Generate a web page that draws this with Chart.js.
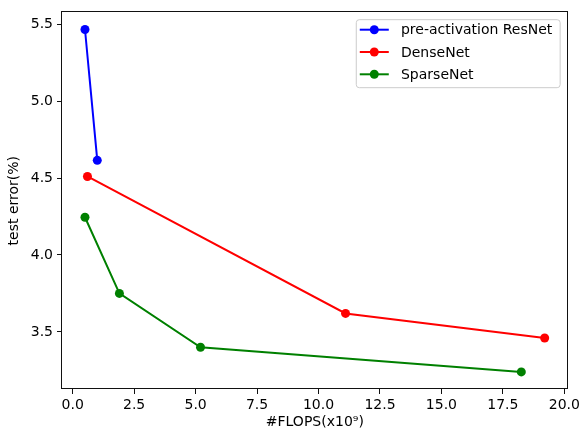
<!DOCTYPE html>
<html>
<head>
<meta charset="utf-8">
<script src="https://cdn.jsdelivr.net/npm/chart.js@4"></script>
<style>
  html, body { margin: 0; padding: 0; background: #fff; }
  #wrap { width: 583px; height: 437px; }
</style>
</head>
<body>
<div id="wrap"><canvas id="c" width="583" height="437"></canvas></div>
<script>
// ---- data ----
const seriesNames = ['pre-activation ResNet', 'DenseNet', 'SparseNet'];
const resnetFlops = [0.5, 1.0];
const resnetError = [5.465, 4.615];
const denseFlops = [0.6, 11.1, 19.2];
const denseError = [4.51, 3.62, 3.46];
const sparseFlops = [0.5, 1.9, 5.2, 18.25];
const sparseError = [4.245, 3.75, 3.40, 3.24];
const xTickValues = [0, 2.5, 5, 7.5, 10, 12.5, 15, 17.5, 20];
const yTickValues = [3.5, 4.0, 4.5, 5.0, 5.5];
const xTitle = '#FLOPS(x10\u2079)';
const yTitle = 'test error(%)';

function pts(xs, ys) { return xs.map((x, i) => ({ x: x, y: ys[i] })); }

// matplotlib-style 5% autoscale margins
const allX = [].concat(resnetFlops, denseFlops, sparseFlops);
const allY = [].concat(resnetError, denseError, sparseError);
function lims(a) {
  const lo = Math.min.apply(null, a), hi = Math.max.apply(null, a), m = (hi - lo) * 0.05;
  return [lo - m, hi + m];
}
const [xMin, xMax] = lims(allX);
const [yMin, yMax] = lims(allY);

const FONT = '"DejaVu Sans", sans-serif';
Chart.defaults.font.family = FONT;
Chart.defaults.font.size = 14;
Chart.defaults.color = '#000';

const frame = {
  id: 'frame',
  afterDatasetsDraw(chart) {
    const { ctx, chartArea: a } = chart;
    ctx.save();
    ctx.strokeStyle = '#111';
    ctx.lineWidth = 1;
    ctx.strokeRect(Math.round(a.left) - 0.5, Math.round(a.top) - 0.5,
                   Math.round(a.right - a.left), Math.round(a.bottom - a.top));
    ctx.restore();
  }
};

const legendBox = {
  id: 'legendBox',
  afterDraw(chart) {
    const { ctx, chartArea: a } = chart;
    const ds = chart.data.datasets;
    ctx.save();
    ctx.font = '14px ' + FONT;
    let tw = 0;
    ds.forEach(d => { tw = Math.max(tw, ctx.measureText(d.label).width); });
    const padL = 3.5, handle = 29, gap = 12.2, padR = 7.8, rowH = 22.3;
    const w = padL + handle + gap + tw + padR;
    const h = 68;
    const x0 = a.right - 7.5 - w, y0 = a.top + 7.3;
    const r = 3;
    ctx.beginPath();
    ctx.moveTo(x0 + r, y0);
    ctx.lineTo(x0 + w - r, y0); ctx.quadraticCurveTo(x0 + w, y0, x0 + w, y0 + r);
    ctx.lineTo(x0 + w, y0 + h - r); ctx.quadraticCurveTo(x0 + w, y0 + h, x0 + w - r, y0 + h);
    ctx.lineTo(x0 + r, y0 + h); ctx.quadraticCurveTo(x0, y0 + h, x0, y0 + h - r);
    ctx.lineTo(x0, y0 + r); ctx.quadraticCurveTo(x0, y0, x0 + r, y0);
    ctx.closePath();
    ctx.fillStyle = 'rgba(255,255,255,0.8)';
    ctx.fill();
    ctx.strokeStyle = '#cccccc';
    ctx.lineWidth = 1;
    ctx.stroke();
    ds.forEach((d, i) => {
      const cy = y0 + 10 + rowH * i;
      const hx = x0 + padL;
      ctx.strokeStyle = d.borderColor;
      ctx.lineWidth = d.borderWidth;
      ctx.beginPath(); ctx.moveTo(hx, cy); ctx.lineTo(hx + handle, cy); ctx.stroke();
      ctx.fillStyle = d.backgroundColor;
      ctx.beginPath(); ctx.arc(hx + handle / 2, cy, d.pointRadius, 0, Math.PI * 2); ctx.fill();
      ctx.fillStyle = '#000';
      ctx.textBaseline = 'middle';
      ctx.textAlign = 'left';
      ctx.fillText(d.label, hx + handle + gap, cy + 1);
    });
    ctx.restore();
  }
};

function ds(label, color, xs, ys) {
  return {
    label: label,
    data: pts(xs, ys),
    showLine: true,
    borderColor: color,
    backgroundColor: color,
    borderWidth: 2,
    pointRadius: 4.5,
    pointHoverRadius: 4.5,
    pointBorderWidth: 0,
    tension: 0
  };
}

new Chart(document.getElementById('c'), {
  type: 'scatter',
  data: {
    datasets: [
      ds(seriesNames[0], '#0000ff', resnetFlops, resnetError),
      ds(seriesNames[1], '#ff0000', denseFlops, denseError),
      ds(seriesNames[2], '#008000', sparseFlops, sparseError)
    ]
  },
  options: {
    responsive: false,
    animation: false,
    events: [],
    layout: { padding: { left: 0, right: 13, top: 10, bottom: 0 } },
    plugins: { legend: { display: false }, tooltip: { enabled: false } },
    scales: {
      x: {
        type: 'linear',
        min: xMin, max: xMax,
        afterFit(s) { s.height = 48; },
        afterBuildTicks(s) { s.ticks = xTickValues.map(v => ({ value: v })); },
        ticks: { callback: v => v.toFixed(1), padding: 3, maxRotation: 0, autoSkip: false },
        grid: { display: true, drawOnChartArea: false, drawTicks: true, tickLength: 5, color: '#111' },
        border: { display: false },
        title: { display: true, text: xTitle, padding: { top: 0, bottom: 6 } }
      },
      y: {
        type: 'linear',
        min: yMin, max: yMax,
        afterFit(s) { s.width = 62; },
        afterBuildTicks(s) { s.ticks = yTickValues.map(v => ({ value: v })); },
        ticks: { callback: v => v.toFixed(1), padding: 4, autoSkip: false },
        grid: { display: true, drawOnChartArea: false, drawTicks: true, tickLength: 5, color: '#111' },
        border: { display: false },
        title: { display: true, text: yTitle, padding: { top: 6, bottom: 0 } }
      }
    }
  },
  plugins: [frame, legendBox]
});
</script>
</body>
</html>
